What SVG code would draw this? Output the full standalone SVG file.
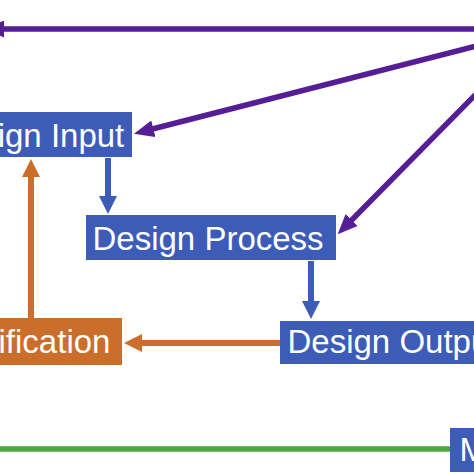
<svg xmlns="http://www.w3.org/2000/svg" width="474" height="474" viewBox="0 0 474 474">
  <style>
    .lbl { font-family: "Liberation Sans", Arial, sans-serif; font-size: 33px; fill: #ffffff; }
    .blue { fill: #3C5CB8; }
    .orange { fill: #CB6D2B; }
    .c-blue { stroke: #3C5CB8; stroke-width: 6; fill: none; }
    .c-orange { stroke: #CB6D2B; stroke-width: 6; fill: none; }
    .c-purple { stroke: #561E96; stroke-width: 5.5; fill: none; }
    .c-green { stroke: #4CA83C; stroke-width: 5.5; fill: none; }
  </style>
  <defs>
    <marker id="ah-blue" viewBox="0 0 18 18" markerUnits="userSpaceOnUse" markerWidth="18" markerHeight="18" refX="1" refY="9" orient="auto">
      <path d="M0,0 L18,9 L0,18 Z" fill="#3C5CB8"/>
    </marker>
    <marker id="ah-orange" viewBox="0 0 18 18" markerUnits="userSpaceOnUse" markerWidth="18" markerHeight="18" refX="1" refY="9" orient="auto">
      <path d="M0,0 L18,9 L0,18 Z" fill="#CB6D2B"/>
    </marker>
    <marker id="ah-purple" viewBox="0 0 20 17" markerUnits="userSpaceOnUse" markerWidth="20" markerHeight="17" refX="1" refY="8.5" orient="auto">
      <path d="M0,0 L20,8.5 L0,17 Z" fill="#561E96"/>
    </marker>
  </defs>
  <rect width="474" height="474" fill="#ffffff"/>

  <g id="connectors">
    <line class="c-purple" x1="480" y1="29" x2="3" y2="29" marker-end="url(#ah-purple)"/>
    <line class="c-purple" x1="480" y1="45" x2="152.4" y2="129" marker-end="url(#ah-purple)"/>
    <line class="c-purple" x1="480" y1="90" x2="351" y2="220.8" marker-end="url(#ah-purple)"/>
    <line class="c-blue" x1="108" y1="158" x2="108" y2="197" marker-end="url(#ah-blue)"/>
    <line class="c-blue" x1="311" y1="261" x2="311" y2="302" marker-end="url(#ah-blue)"/>
    <line class="c-orange" x1="280" y1="343" x2="141" y2="343" marker-end="url(#ah-orange)"/>
    <line class="c-orange" x1="31" y1="318" x2="31" y2="176" marker-end="url(#ah-orange)"/>
    <line class="c-green" x1="0" y1="449" x2="450" y2="449"/>
  </g>

  <g id="design-input">
    <rect class="blue" x="-80" y="112" width="212" height="45"/>
    <text class="lbl" x="-61" y="147">Design Input</text>
  </g>
  <g id="design-process">
    <rect class="blue" x="86" y="215" width="250" height="45"/>
    <text class="lbl" x="92.5" y="250">Design Process</text>
  </g>
  <g id="design-output">
    <rect class="blue" x="280" y="321" width="230" height="43"/>
    <text class="lbl" x="287.5" y="353">Design Output</text>
  </g>
  <g id="verification">
    <rect class="orange" x="-70" y="318" width="192" height="47"/>
    <text class="lbl" x="-51" y="353">Verification</text>
  </g>
  <g id="medical-device">
    <rect class="blue" x="450" y="428" width="250" height="44"/>
    <text class="lbl" x="459.6" y="461">Medical Device</text>
  </g>
</svg>
